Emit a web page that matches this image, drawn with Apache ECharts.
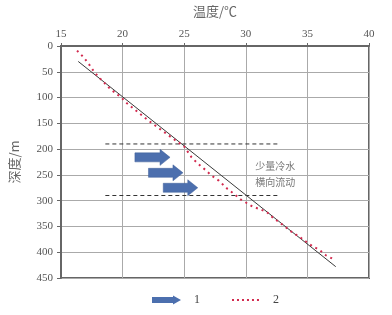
<!DOCTYPE html>
<html><head><meta charset="utf-8">
<script src="https://cdn.jsdelivr.net/npm/echarts@6/dist/echarts.min.js"></script>
<style>html,body{margin:0;padding:0;background:#fff}#c{width:392px;height:315px}</style>
</head><body><div id="c"></div>
<script>
// X axis: temperature (°C), Y axis: depth (m)
const xTicks = [15, 20, 25, 30, 35, 40];
const yTicks = [0, 50, 100, 150, 200, 250, 300, 350, 400, 450];

// Series 2 (dotted, measured profile)
const s2Temp  = [16.3, 16.8, 17.2, 17.6, 18.0, 18.5, 18.9, 19.4, 19.9, 20.3, 22.0, 24.0, 25.0, 25.6, 26.1, 26.7, 27.2, 27.8, 28.5, 29.0, 29.6, 30.1, 30.6, 31.2, 31.7, 32.2, 33.0, 33.8, 34.3, 34.8, 35.4, 36.0, 36.5, 37.0];
const s2Depth = [9, 21, 33, 47, 59, 71, 81, 91, 100, 110, 143, 178, 195, 216, 228, 240, 251, 261, 277, 286, 298, 305, 312, 317, 322, 333, 347, 362, 369, 378, 388, 396, 406, 412];

// Reference straight line
const fitTemp  = [16.4, 37.3];
const fitDepth = [30, 428];

// Dashed boundary lines of the cold-water zone
const zoneTemp   = [18.6, 32.6];
const zoneTop    = 190;
const zoneBottom = 290;

// Series 1: flow arrows (start temp, end temp, depth)
const arrowStart = [21.0, 22.1, 23.3];
const arrowEnd   = [23.85, 24.9, 26.1];
const arrowDepth = [216, 246, 275];

// Annotation
const noteText  = '少量冷水\n横向流动';
const notePos   = [32.4, 249];

const serif = 'Liberation Serif, Times New Roman, serif';
const cjk = 'Noto Sans CJK SC, sans-serif';

const chart = echarts.init(document.getElementById('c'), null, {renderer: 'canvas'});

const arrowData = arrowStart.map((s, i) => [s, arrowEnd[i], arrowDepth[i]]);
const s2Data = s2Temp.map((t, i) => [t, s2Depth[i]]);
const fitData = fitTemp.map((t, i) => [t, fitDepth[i]]);

const arrowIcon = 'path://M0,1.5 L21,1.5 L21,0 L29,4.5 L21,9 L21,7.5 L0,7.5 Z';
const dotsIcon = 'path://M0,3.5h2v2h-2z M5,3.5h2v2h-2z M10,3.5h2v2h-2z M15,3.5h2v2h-2z M20,3.5h2v2h-2z M25,3.5h2v2h-2z M0,0h0.01v0.01h-0.01z M0,9h0.01v0.01h-0.01z';

chart.setOption({
  animation: false,
  backgroundColor: '#fff',
  grid: {left: 53, right: 23, top: 45, bottom: 37, show: true, borderColor: '#666', borderWidth: 2, backgroundColor: 'transparent'},
  legend: {
    left: 147, top: 289, itemWidth: 29, itemHeight: 9, itemGap: 32,
    textStyle: {fontFamily: serif, fontSize: 12, color: '#444', padding: [0, 0, 0, 8]},
    data: [
      {name: '1', icon: arrowIcon, itemStyle: {color: '#4c6fae'}},
      {name: '2', icon: dotsIcon, itemStyle: {color: '#d22a4e'}}
    ]
  },
  xAxis: {
    type: 'value', position: 'top', min: xTicks[0], max: xTicks[xTicks.length - 1], interval: 5,
    name: '温度/℃', nameLocation: 'middle', nameGap: 28,
    nameTextStyle: {fontFamily: cjk, fontSize: 13, color: '#666'},
    axisLine: {show: true, lineStyle: {color: '#666', width: 2}},
    axisTick: {show: true, length: 3, lineStyle: {color: '#666'}},
    axisLabel: {margin: 6, fontFamily: serif, fontSize: 11, color: '#555'},
    splitLine: {show: true, lineStyle: {color: '#aaa', width: 1}}
  },
  yAxis: {
    type: 'value', inverse: true, min: yTicks[0], max: yTicks[yTicks.length - 1], interval: 50,
    name: '深度/m', nameLocation: 'middle', nameGap: 40,
    nameTextStyle: {fontFamily: cjk, fontSize: 13, color: '#666'},
    axisLine: {show: true, lineStyle: {color: '#666', width: 2}},
    axisTick: {show: true, length: 4, lineStyle: {color: '#666'}},
    axisLabel: {margin: 8, fontFamily: serif, fontSize: 11, color: '#555'},
    splitLine: {show: true, lineStyle: {color: '#aaa', width: 1}}
  },
  series: [
    {
      name: 'zoneTop', type: 'line', data: zoneTemp.map(t => [t, zoneTop]), symbol: 'none',
      lineStyle: {color: '#333', width: 1, type: [4, 3]}, z: 3, silent: true
    },
    {
      name: 'zoneBottom', type: 'line', data: zoneTemp.map(t => [t, zoneBottom]), symbol: 'none',
      lineStyle: {color: '#333', width: 1, type: [4, 3]}, z: 3, silent: true
    },
    {
      name: 'fit', type: 'line', data: fitData, symbol: 'none',
      lineStyle: {color: '#3a3a3a', width: 1}, z: 4, silent: true
    },
    {
      name: '2', type: 'line', data: s2Data, symbol: 'none', showSymbol: false,
      itemStyle: {color: '#d22a4e'},
      lineStyle: {color: '#d22a4e', width: 2, type: [2, 4]}, z: 5
    },
    {
      name: '1', type: 'custom', data: arrowData, z: 6,
      itemStyle: {color: '#4c6fae'},
      renderItem: function (params, api) {
        const p0 = api.coord([api.value(0), api.value(2)]);
        const p1 = api.coord([api.value(1), api.value(2)]);
        const bh = 4.5, hh = 8, hl = 10;
        const x0 = p0[0], x1 = p1[0], y = p0[1];
        return {
          type: 'polygon',
          shape: {points: [[x0, y - bh], [x1 - hl, y - bh], [x1 - hl, y - hh], [x1, y], [x1 - hl, y + hh], [x1 - hl, y + bh], [x0, y + bh]]},
          style: {fill: '#4c6fae', stroke: '#3f5f99', lineWidth: 0.5}
        };
      }
    },
    {
      name: 'note', type: 'scatter', data: [notePos], symbolSize: 0, silent: true,
      label: {show: true, position: 'inside', formatter: noteText, fontFamily: cjk, fontSize: 10, lineHeight: 16, color: '#555'}
    }
  ]
});
</script>
</body></html>
